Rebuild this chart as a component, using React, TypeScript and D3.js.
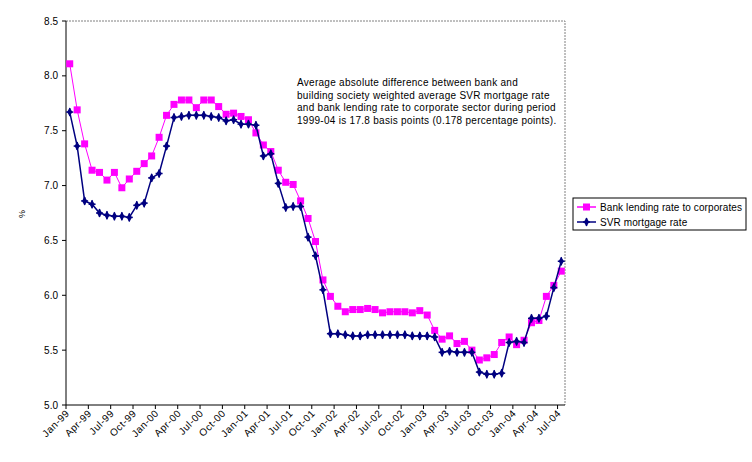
import React from "react";
import * as d3 from "d3";

const bankRate = [8.11,7.69,7.38,7.14,7.12,7.05,7.12,6.98,7.06,7.13,7.20,7.27,7.44,7.64,7.74,7.78,7.78,7.71,7.78,7.78,7.72,7.65,7.66,7.63,7.60,7.48,7.37,7.31,7.14,7.03,7.01,6.86,6.70,6.49,6.14,5.99,5.90,5.85,5.87,5.87,5.88,5.87,5.84,5.85,5.85,5.85,5.84,5.86,5.82,5.68,5.60,5.63,5.56,5.58,5.50,5.41,5.43,5.46,5.57,5.62,5.55,5.59,5.75,5.77,5.99,6.09,6.22];
const svrRate = [7.67,7.36,6.86,6.83,6.75,6.73,6.72,6.72,6.71,6.82,6.84,7.07,7.11,7.36,7.62,7.63,7.64,7.64,7.64,7.63,7.62,7.59,7.60,7.56,7.56,7.55,7.27,7.29,7.02,6.80,6.81,6.81,6.53,6.36,6.05,5.65,5.65,5.64,5.63,5.63,5.64,5.64,5.64,5.64,5.64,5.64,5.63,5.63,5.63,5.62,5.48,5.49,5.48,5.48,5.48,5.30,5.28,5.28,5.29,5.57,5.58,5.57,5.79,5.79,5.81,6.07,6.31];
const xTickLabels = ["Jan-99","Apr-99","Jul-99","Oct-99","Jan-00","Apr-00","Jul-00","Oct-00","Jan-01","Apr-01","Jul-01","Oct-01","Jan-02","Apr-02","Jul-02","Oct-02","Jan-03","Apr-03","Jul-03","Oct-03","Jan-04","Apr-04","Jul-04"];
const yTicks = [5.0,5.5,6.0,6.5,7.0,7.5,8.0,8.5];
const seriesNames = ["Bank lending rate to corporates","SVR mortgage rate"];
const noteLines = [
  "Average absolute difference between bank and",
  "building society weighted average SVR mortgage rate",
  "and bank lending rate to corporate sector during period",
  "1999-04 is 17.8 basis points (0.178 percentage points).",
];

const W = 752, H = 462;
const L = 66, R = 565, T = 21, B = 405;
const FONT = "'Liberation Sans', Arial, sans-serif";
const MAG = "#FF00FF", NAVY = "#000080";

export default function App() {
  const idx = d3.range(bankRate.length);
  const x = d3.scaleBand<number>().domain(idx).range([L, R]).padding(0);
  const cx = (i: number) => (x(i) as number) + x.bandwidth() / 2;
  const y = d3.scaleLinear().domain([5, 8.5]).range([B, T]);
  const line = d3.line<number>().x((_, i) => cx(i)).y((v) => y(v));
  const diamond = d3.symbol().type(d3.symbolDiamond).size(24)();

  const navyMarker = (px: number, py: number, k: string | number) => (
    <g key={k} transform={`translate(${px},${py})`}>
      <path d={diamond as string} fill={NAVY} />
      <line x1={-3.5} x2={3.5} y1={0} y2={0} stroke={NAVY} strokeWidth={1.5} />
      <line x1={0} x2={0} y1={-4} y2={4} stroke={NAVY} strokeWidth={1.5} />
    </g>
  );
  const magMarker = (px: number, py: number, k: string | number) => (
    <rect key={k} x={px - 3.5} y={py - 3.5} width={7} height={7} fill={MAG} />
  );

  return (
    <svg width={W} height={H} style={{ position: "absolute", left: 0, top: 0, background: "#fff" }} fontFamily={FONT}>
      <rect width={W} height={H} fill="#fff" />
      <path d={`M${L},${T}H${R}V${B}`} fill="none" stroke="#808080" strokeWidth={1} strokeDasharray="2,1" />
      <line x1={L} x2={L} y1={T} y2={B} stroke="#000" strokeWidth={1} />
      {yTicks.map((t) => (
        <g key={t}>
          <line x1={L - 4} x2={L} y1={y(t)} y2={y(t)} stroke="#000" />
          <text x={L - 8} y={y(t)} dy="0.35em" textAnchor="end" fontSize={10}>{t.toFixed(1)}</text>
        </g>
      ))}
      <text transform={`translate(25,214) rotate(-90)`} textAnchor="middle" fontSize={9}>%</text>
      <line x1={L} x2={R} y1={B} y2={B} stroke="#000" strokeWidth={1} />
      {xTickLabels.map((lab, k) => {
        const tx = x(k * 3) as number;
        return (
          <g key={lab}>
            <line x1={tx} x2={tx} y1={B} y2={B + 4} stroke="#000" />
            <text transform={`translate(${tx + 4},${B + 9}) rotate(-45)`} textAnchor="end" fontSize={10} letterSpacing={0.5}>{lab}</text>
          </g>
        );
      })}
      <path d={line(bankRate) as string} fill="none" stroke={MAG} strokeWidth={1} />
      {bankRate.map((v, i) => magMarker(cx(i), y(v), "m" + i))}
      <path d={line(svrRate) as string} fill="none" stroke={NAVY} strokeWidth={1.5} />
      {svrRate.map((v, i) => navyMarker(cx(i), y(v), "n" + i))}
      {noteLines.map((s, i) => (
        <text key={i} x={297} y={86 + i * 12.7} fontSize={10} letterSpacing={0.28}>{s}</text>
      ))}
      <rect x={573} y={198} width={173} height={32} fill="#fff" stroke="#000" strokeWidth={1} />
      <line x1={577} x2={596} y1={207} y2={207} stroke={MAG} strokeWidth={1.5} />
      {magMarker(586.5, 207, "lm")}
      <text x={600} y={207} dy="0.35em" fontSize={10} letterSpacing={0.1}>{seriesNames[0]}</text>
      <line x1={577} x2={596} y1={222} y2={222} stroke={NAVY} strokeWidth={1.5} />
      {navyMarker(586.5, 222, "ln")}
      <text x={600} y={222} dy="0.35em" fontSize={10} letterSpacing={0.1}>{seriesNames[1]}</text>
    </svg>
  );
}
